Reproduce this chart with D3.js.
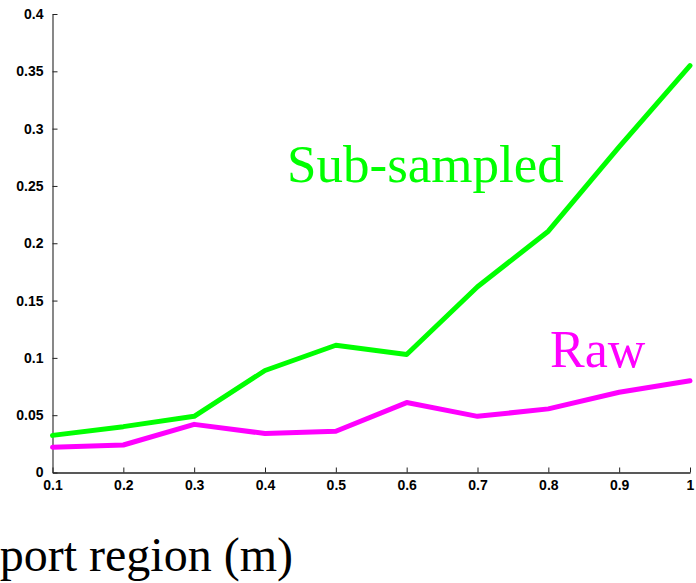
<!DOCTYPE html>
<html>
<head>
<meta charset="utf-8">
<script src="https://cdn.jsdelivr.net/npm/d3@7"></script>
<style>
  html, body { margin: 0; padding: 0; background: #fff; overflow: hidden; }
  svg { display: block; }
</style>
</head>
<body>
<svg id="chart" width="696" height="583"></svg>
<script>
// Support region sizes (m) and the error of each method
const supportRegion = [0.1, 0.2, 0.3, 0.4, 0.5, 0.6, 0.7, 0.8, 0.9, 1.0];
const subSampled   = [0.0324, 0.040, 0.049, 0.089, 0.111, 0.103, 0.162, 0.2105, 0.284, 0.355];
const raw          = [0.022, 0.024, 0.042, 0.034, 0.036, 0.061, 0.049, 0.0555, 0.070, 0.080];

const xTicks = [0.1, 0.2, 0.3, 0.4, 0.5, 0.6, 0.7, 0.8, 0.9, 1];
const yTicks = [0, 0.05, 0.1, 0.15, 0.2, 0.25, 0.3, 0.35, 0.4];

const seriesNames  = ["Sub-sampled", "Raw"];
const seriesColors = ["#00ff00", "#ff00ff"];
const xAxisTitle   = "Support region (m)";

const svg = d3.select("#chart");

const x = d3.scaleLinear().domain([0.1, 1]).range([52.5, 690]);
const y = d3.scaleLinear().domain([0, 0.4]).range([472.5, 14]);

const tickFont = "'Liberation Sans', Arial, Helvetica, sans-serif";

// y axis: ticks drawn inward, on the plot side
const yAxis = svg.append("g")
  .attr("transform", `translate(${x.range()[0]},0)`)
  .call(d3.axisLeft(y).tickValues(yTicks).tickSizeInner(-5).tickSizeOuter(0)
    .tickPadding(9).tickFormat(d => d3.format("~g")(d)));
yAxis.select(".domain").attr("stroke", "#555").attr("stroke-width", 1.4);
yAxis.selectAll(".tick line").attr("stroke", "#222");
yAxis.selectAll(".tick text")
  .attr("font-family", tickFont).attr("font-weight", "bold")
  .attr("font-size", 14).attr("fill", "#000");

// x axis: ticks pointing up into the plot
const xAxis = svg.append("g")
  .attr("transform", `translate(0,${y.range()[0]})`)
  .call(d3.axisBottom(x).tickValues(xTicks).tickSizeInner(-5).tickSizeOuter(0)
    .tickPadding(8).tickFormat(d => d3.format("~g")(d)));
xAxis.select(".domain").attr("stroke", "#222").attr("stroke-width", 1.4);
xAxis.selectAll(".tick line").attr("stroke", "#222");
xAxis.selectAll(".tick text")
  .attr("font-family", tickFont).attr("font-weight", "bold")
  .attr("font-size", 14).attr("fill", "#000");

// data lines
const line = d3.line()
  .x((d, i) => x(supportRegion[i]))
  .y(d => y(d));

[subSampled, raw].forEach((vals, k) => {
  svg.append("path")
    .datum(vals)
    .attr("d", line)
    .attr("fill", "none")
    .attr("stroke", seriesColors[k])
    .attr("stroke-width", 5)
    .attr("stroke-linejoin", "round")
    .attr("stroke-linecap", "round");
});

const serif = "'Liberation Serif', 'Times New Roman', Times, serif";

// in-plot series labels
svg.append("text")
  .attr("x", 287).attr("y", 182)
  .attr("font-family", serif).attr("font-size", 53)
  .attr("fill", seriesColors[0])
  .text(seriesNames[0]);

svg.append("text")
  .attr("x", 550).attr("y", 367)
  .attr("font-family", serif).attr("font-size", 52)
  .attr("fill", seriesColors[1])
  .text(seriesNames[1]);

// x axis title (extends past the left edge of the canvas)
svg.append("text")
  .attr("x", -75).attr("y", 571)
  .attr("font-family", serif).attr("font-size", 48)
  .attr("fill", "#000")
  .text(xAxisTitle);
</script>
</body>
</html>
